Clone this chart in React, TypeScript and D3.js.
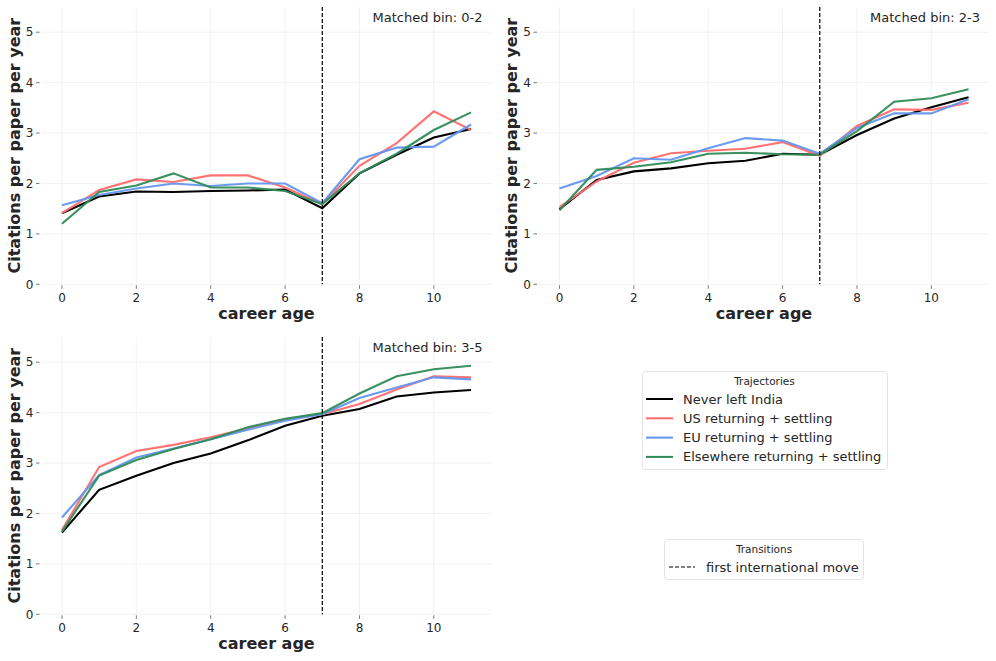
import React, { useEffect, useRef } from 'react';
import * as d3 from 'd3';

const careerAge = [0, 1, 2, 3, 4, 5, 6, 7, 8, 9, 10, 11];
const seriesNames = ['Never left India', 'US returning + settling', 'EU returning + settling', 'Elsewhere returning + settling'];
const seriesColors = ['#000000', '#ff6b6b', '#6495ed', '#2e8b57'];
const binLabels = ['Matched bin: 0-2', 'Matched bin: 2-3', 'Matched bin: 3-5'];

const bin02 = [
  [1.41, 1.74, 1.84, 1.83, 1.85, 1.86, 1.88, 1.51, 2.20, 2.57, 2.91, 3.08],
  [1.41, 1.87, 2.08, 2.03, 2.16, 2.16, 1.92, 1.59, 2.35, 2.80, 3.43, 3.06],
  [1.57, 1.77, 1.90, 2.00, 1.95, 2.00, 2.00, 1.61, 2.48, 2.71, 2.73, 3.17],
  [1.20, 1.83, 1.96, 2.20, 1.92, 1.92, 1.85, 1.59, 2.20, 2.59, 3.06, 3.41],
];
const bin23 = [
  [1.49, 2.07, 2.24, 2.30, 2.40, 2.45, 2.59, 2.57, 2.96, 3.29, 3.51, 3.71],
  [1.53, 2.04, 2.41, 2.60, 2.65, 2.69, 2.82, 2.55, 3.14, 3.47, 3.46, 3.60],
  [1.90, 2.15, 2.50, 2.47, 2.70, 2.90, 2.85, 2.59, 3.10, 3.39, 3.39, 3.67],
  [1.47, 2.27, 2.33, 2.42, 2.59, 2.61, 2.58, 2.57, 3.04, 3.62, 3.69, 3.87],
];
const bin35 = [
  [1.62, 2.47, 2.75, 3.00, 3.19, 3.45, 3.74, 3.94, 4.07, 4.32, 4.40, 4.45],
  [1.67, 2.92, 3.24, 3.36, 3.51, 3.69, 3.87, 3.97, 4.17, 4.46, 4.72, 4.70],
  [1.92, 2.76, 3.11, 3.29, 3.47, 3.66, 3.84, 3.97, 4.29, 4.50, 4.70, 4.66],
  [1.64, 2.75, 3.06, 3.28, 3.47, 3.71, 3.88, 3.99, 4.38, 4.72, 4.86, 4.93],
];
const panelData = [bin02, bin23, bin35];
const moveAge = 7;
const xTicks = [0, 2, 4, 6, 8, 10];
const yTicks = [0, 1, 2, 3, 4, 5];

const FONT = 'DejaVu Sans, sans-serif';

const App: React.FC = () => {
  const chartRef = useRef<SVGSVGElement | null>(null);

  useEffect(() => {
    const svg = d3.select(chartRef.current);
    svg.selectAll('*').remove();

    // plot area origins for the three panels
    const panels = [
      { left: 41.5, top: 7 },
      { left: 539, top: 7 },
      { left: 41.5, top: 337 },
    ];
    const w = 450;
    const h = 277.3;

    panels.forEach((p, pi) => {
      const g = svg.append('g').attr('transform', `translate(${p.left},${p.top})`);

      const x = d3.scaleLinear().domain([-0.55, 11.55]).range([0, w]);
      const y = d3.scaleLinear().domain([0, 5.5]).range([h, 0]);

      // grid
      g.selectAll('.vgrid').data(xTicks).enter().append('line')
        .attr('x1', d => x(d)).attr('x2', d => x(d))
        .attr('y1', 0).attr('y2', h)
        .attr('stroke', '#efefef').attr('stroke-width', 0.8);
      g.selectAll('.hgrid').data(yTicks).enter().append('line')
        .attr('x1', 0).attr('x2', w)
        .attr('y1', d => y(d)).attr('y2', d => y(d))
        .attr('stroke', '#efefef').attr('stroke-width', 0.8);

      // y ticks
      yTicks.forEach(t => {
        g.append('line')
          .attr('x1', -5.5).attr('x2', -2)
          .attr('y1', y(t)).attr('y2', y(t))
          .attr('stroke', '#555').attr('stroke-width', 0.8);
        g.append('text')
          .attr('x', -8).attr('y', y(t)).attr('dy', '0.35em')
          .attr('text-anchor', 'end')
          .style('font-family', FONT).style('font-size', '12px').attr('fill', '#262626')
          .text(t);
      });

      // x ticks
      xTicks.forEach(t => {
        g.append('line')
          .attr('x1', x(t)).attr('x2', x(t))
          .attr('y1', h + 1).attr('y2', h + 4.5)
          .attr('stroke', '#555').attr('stroke-width', 0.8);
        g.append('text')
          .attr('x', x(t)).attr('y', h + 18)
          .attr('text-anchor', 'middle')
          .style('font-family', FONT).style('font-size', '12px').attr('fill', '#262626')
          .text(t);
      });

      // series
      const line = d3.line<number>()
        .x((_, i) => x(careerAge[i]))
        .y(d => y(d));
      panelData[pi].forEach((vals, si) => {
        g.append('path')
          .datum(vals)
          .attr('d', line)
          .attr('fill', 'none')
          .attr('stroke', seriesColors[si])
          .attr('stroke-width', 2.1)
          .attr('stroke-opacity', si === 0 ? 1 : 0.95);
      });

      // transition line
      g.append('line')
        .attr('x1', x(moveAge)).attr('x2', x(moveAge))
        .attr('y1', 0).attr('y2', h)
        .attr('stroke', '#000').attr('stroke-width', 1.2)
        .attr('stroke-dasharray', '4,2');

      // annotation
      g.append('text')
        .attr('x', w - 9).attr('y', 15)
        .attr('text-anchor', 'end')
        .style('font-family', FONT).style('font-size', '13px').attr('fill', '#262626')
        .text(binLabels[pi]);

      // axis labels
      g.append('text')
        .attr('x', w / 2).attr('y', h + 35)
        .attr('text-anchor', 'middle')
        .style('font-family', FONT).style('font-size', '16px').style('font-weight', 'bold')
        .attr('fill', '#262626')
        .text('career age');
      g.append('text')
        .attr('transform', `translate(-22,${h / 2}) rotate(-90)`)
        .attr('text-anchor', 'middle')
        .style('font-family', FONT).style('font-size', '16px').style('font-weight', 'bold')
        .attr('fill', '#262626')
        .text('Citations per paper per year');
    });

    // legend: trajectories
    const lg = svg.append('g').attr('transform', 'translate(642,371)');
    lg.append('rect')
      .attr('x', 0.5).attr('y', 0.5).attr('width', 245).attr('height', 98)
      .attr('rx', 3).attr('fill', '#fff').attr('stroke', '#dcdcdc').attr('stroke-width', 0.8);
    lg.append('text')
      .attr('x', 122.5).attr('y', 10).attr('dy', '0.35em')
      .attr('text-anchor', 'middle')
      .style('font-family', FONT).style('font-size', '10.5px').attr('fill', '#262626')
      .text('Trajectories');
    seriesNames.forEach((name, i) => {
      const yy = 28 + i * 19.3;
      lg.append('line')
        .attr('x1', 4).attr('x2', 31)
        .attr('y1', yy).attr('y2', yy)
        .attr('stroke', seriesColors[i]).attr('stroke-width', 2);
      lg.append('text')
        .attr('x', 41).attr('y', yy).attr('dy', '0.35em')
        .style('font-family', FONT).style('font-size', '13px').attr('fill', '#262626')
        .text(name);
    });

    // legend: transitions
    const tg = svg.append('g').attr('transform', 'translate(664,539)');
    tg.append('rect')
      .attr('x', 0.5).attr('y', 0.5).attr('width', 199).attr('height', 40)
      .attr('rx', 3).attr('fill', '#fff').attr('stroke', '#dcdcdc').attr('stroke-width', 0.8);
    tg.append('text')
      .attr('x', 100).attr('y', 10).attr('dy', '0.35em')
      .attr('text-anchor', 'middle')
      .style('font-family', FONT).style('font-size', '10.5px').attr('fill', '#262626')
      .text('Transitions');
    tg.append('line')
      .attr('x1', 5).attr('x2', 31)
      .attr('y1', 28).attr('y2', 28)
      .attr('stroke', '#000').attr('stroke-width', 1.2)
      .attr('stroke-dasharray', '4,2');
    tg.append('text')
      .attr('x', 42).attr('y', 28).attr('dy', '0.35em')
      .style('font-family', FONT).style('font-size', '13px').attr('fill', '#262626')
      .text('first international move');
  }, []);

  return (
    <svg ref={chartRef} width={996} height={661}
      style={{ position: 'absolute', left: 0, top: 0, background: '#fff' }} />
  );
};

export default App;
